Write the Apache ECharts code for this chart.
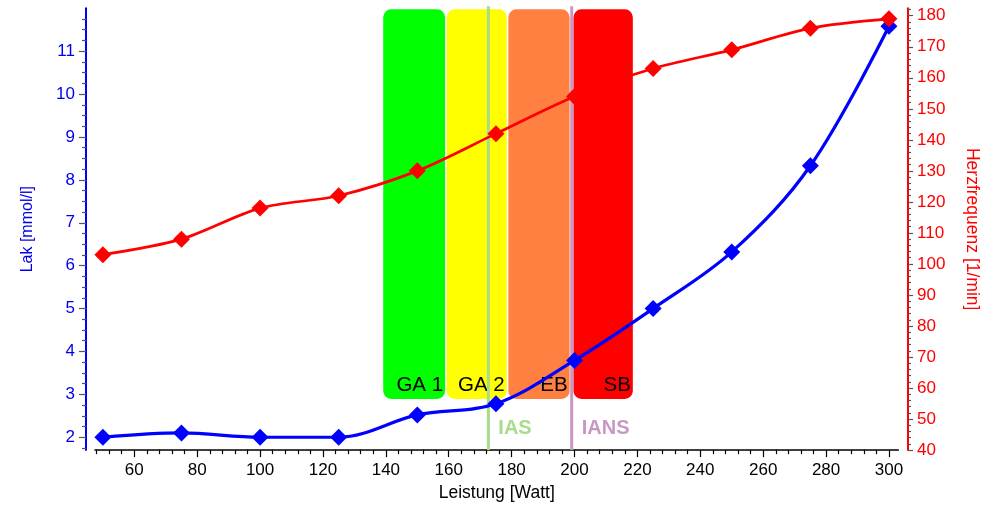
<!DOCTYPE html>
<html>
<head>
<meta charset="utf-8">
<script src="https://cdn.jsdelivr.net/npm/echarts@6/dist/echarts.min.js"></script>
<style>html,body{margin:0;padding:0;background:#fff}#c{width:997px;height:507px}</style>
</head>
<body>
<div id="c"></div>
<script>
// ---- data ----
const watts = [50, 75, 100, 125, 150, 175, 200, 225, 250, 275, 300];
const lak = [2.0, 2.1, 2.0, 2.0, 2.52, 2.78, 3.79, 5.0, 6.32, 8.33, 11.58];
const hf = [103, 108, 118, 122, 130, 142, 154, 163, 169, 176, 179];

const zoneNames = ['GA 1', 'GA 2', 'EB', 'SB'];
const zoneStart = [139.0, 159.2, 178.8, 199.5];
const zoneEnd = [159.0, 178.6, 198.6, 218.7];

const thresholdNames = ['IAS', 'IANS'];
const thresholdWatt = [172.6, 199.1];

const xTicks = [60, 80, 100, 120, 140, 160, 180, 200, 220, 240, 260, 280, 300];
const lakTicks = [2, 3, 4, 5, 6, 7, 8, 9, 10, 11];
const hfTicks = [40, 50, 60, 70, 80, 90, 100, 110, 120, 130, 140, 150, 160, 170, 180];

// ---- styles ----
const zoneColors = ['#00ff00', '#ffff00', '#ff8040', '#ff0000'];
const thresholdColors = ['#a6dc8a', '#c898c4'];
const FONT = 'Liberation Sans, Arial, sans-serif';

function range(a, b, s) { const r = []; for (let v = a; v <= b + 1e-9; v += s) r.push(+v.toFixed(4)); return r; }
const xMinor = range(48, 300, 4).filter(v => v % 20 !== 0);
const lakMinor = range(1.75, 11.75, 0.25).filter(v => Math.abs(v - Math.round(v)) > 1e-6);
const hfMinor = range(40, 182, 2).filter(v => v % 10 !== 0);

const X_MIN = 47.5, X_MAX = 303;
const L_MIN = 1.7, L_MAX = 12.0;
const H_MIN = 40, H_MAX = 182.4;

const chart = echarts.init(document.getElementById('c'), null, { renderer: 'canvas' });

const zoneData = zoneNames.map((n, i) => ({ value: [zoneStart[i], zoneEnd[i]], name: n }));
const thrData = thresholdNames.map((n, i) => ({ value: [thresholdWatt[i]], name: n }));

chart.setOption({
  animation: false,
  backgroundColor: '#fff',
  textStyle: { fontFamily: FONT },
  grid: { left: 95, right: 98.6, top: 8.3, bottom: 56.5, containLabel: false },
  xAxis: [
    {
      type: 'value', min: X_MIN, max: X_MAX, position: 'bottom',
      splitLine: { show: false },
      axisLine: { show: true, onZero: false, lineStyle: { color: '#000', width: 1.5 } },
      axisTick: { show: true, customValues: xTicks, length: 7, lineStyle: { color: '#000', width: 1.2 } },
      axisLabel: { customValues: xTicks, color: '#000', fontSize: 17, margin: 12, fontFamily: FONT },
      name: 'Leistung [Watt]', nameLocation: 'middle', nameGap: 33,
      nameTextStyle: { color: '#000', fontSize: 17.5, fontFamily: FONT }
    },
    {
      type: 'value', min: X_MIN, max: X_MAX, position: 'bottom',
      splitLine: { show: false },
      axisLine: { show: false, onZero: false },
      axisTick: { show: true, customValues: xMinor, length: 4, lineStyle: { color: '#000', width: 1.2 } },
      axisLabel: { show: false }
    }
  ],
  yAxis: [
    {
      type: 'value', min: L_MIN, max: L_MAX, position: 'left', offset: 9,
      splitLine: { show: false },
      axisLine: { show: true, onZero: false, lineStyle: { color: '#0000ff', width: 2 } },
      axisTick: { show: true, customValues: lakTicks, length: 7, lineStyle: { color: '#555', width: 1.2 } },
      axisLabel: { customValues: lakTicks, color: '#0000ee', fontSize: 17, margin: 11, fontFamily: FONT },
      name: 'Lak [mmol/l]', nameLocation: 'middle', nameRotate: 90, nameGap: 50,
      nameTextStyle: { color: '#0000ee', fontSize: 16, fontFamily: FONT }
    },
    {
      type: 'value', min: L_MIN, max: L_MAX, position: 'left', offset: 9,
      splitLine: { show: false },
      axisLine: { show: false, onZero: false },
      axisTick: { show: true, customValues: lakMinor, length: 4, lineStyle: { color: '#555', width: 1.2 } },
      axisLabel: { show: false }
    },
    {
      type: 'value', min: H_MIN, max: H_MAX, position: 'right', offset: 9.6,
      splitLine: { show: false },
      axisLine: { show: true, onZero: false, lineStyle: { color: '#ff0000', width: 2 } },
      axisTick: { show: true, customValues: hfTicks, length: 5, lineStyle: { color: '#555', width: 1.2 } },
      axisLabel: { customValues: hfTicks, color: '#ff0000', fontSize: 17, margin: 9, fontFamily: FONT },
      name: 'Herzfrequenz [1/min]', nameLocation: 'middle', nameRotate: -90, nameGap: 55,
      nameTextStyle: { color: '#ff0000', fontSize: 17.5, fontFamily: FONT }
    },
    {
      type: 'value', min: H_MIN, max: H_MAX, position: 'right', offset: 9.6,
      splitLine: { show: false },
      axisLine: { show: false, onZero: false },
      axisTick: { show: true, customValues: hfMinor, length: 3, lineStyle: { color: '#555', width: 1.2 } },
      axisLabel: { show: false }
    }
  ],
  series: [
    {
      type: 'custom', name: 'zones', xAxisIndex: 0, yAxisIndex: 0, z: 1, silent: true,
      data: zoneData,
      renderItem: function (params, api) {
        const cs = params.coordSys;
        const x0 = api.coord([api.value(0), 2])[0] + 0.5;
        const x1 = api.coord([api.value(1), 2])[0] - 0.5;
        const top = cs.y + 1;
        const bottom = cs.y + cs.height - 51.2;
        const i = params.dataIndex;
        return {
          type: 'group',
          children: [
            { type: 'rect', shape: { x: x0, y: top, width: x1 - x0, height: bottom - top, r: 8 },
              style: { fill: zoneColors[i] } },
            { type: 'text', style: { text: zoneNames[i], x: x1 - 2, y: bottom - 14, align: 'right', verticalAlign: 'middle',
              fill: '#000', fontSize: 20.5, fontFamily: FONT } }
          ]
        };
      }
    },
    {
      type: 'custom', name: 'thresholds', xAxisIndex: 0, yAxisIndex: 0, z: 3, silent: true,
      data: thrData,
      renderItem: function (params, api) {
        const cs = params.coordSys;
        const x = api.coord([api.value(0), 2])[0];
        const i = params.dataIndex;
        return {
          type: 'group',
          children: [
            { type: 'line', shape: { x1: x, y1: cs.y - 2, x2: x, y2: cs.y + cs.height },
              style: { stroke: thresholdColors[i], lineWidth: 3 } },
            { type: 'text', style: { text: thresholdNames[i], x: x + 10, y: cs.y + cs.height - 21.8, align: 'left', verticalAlign: 'middle',
              fill: thresholdColors[i], fontSize: 20, fontWeight: 'bold', fontFamily: FONT } }
          ]
        };
      }
    },
    {
      type: 'line', name: 'Lak', xAxisIndex: 0, yAxisIndex: 0, z: 4,
      data: watts.map((w, i) => [w, lak[i]]),
      smooth: 0.35,
      symbol: 'diamond', symbolSize: 17, showAllSymbol: true,
      lineStyle: { color: '#0000ff', width: 3.2 },
      itemStyle: { color: '#0000ff' }
    },
    {
      type: 'line', name: 'HF', xAxisIndex: 0, yAxisIndex: 2, z: 5,
      data: watts.map((w, i) => [w, hf[i]]),
      smooth: 0.3,
      symbol: 'diamond', symbolSize: 17, showAllSymbol: true,
      lineStyle: { color: '#ff0000', width: 2.7 },
      itemStyle: { color: '#ff0000' }
    }
  ]
});
</script>
</body>
</html>
